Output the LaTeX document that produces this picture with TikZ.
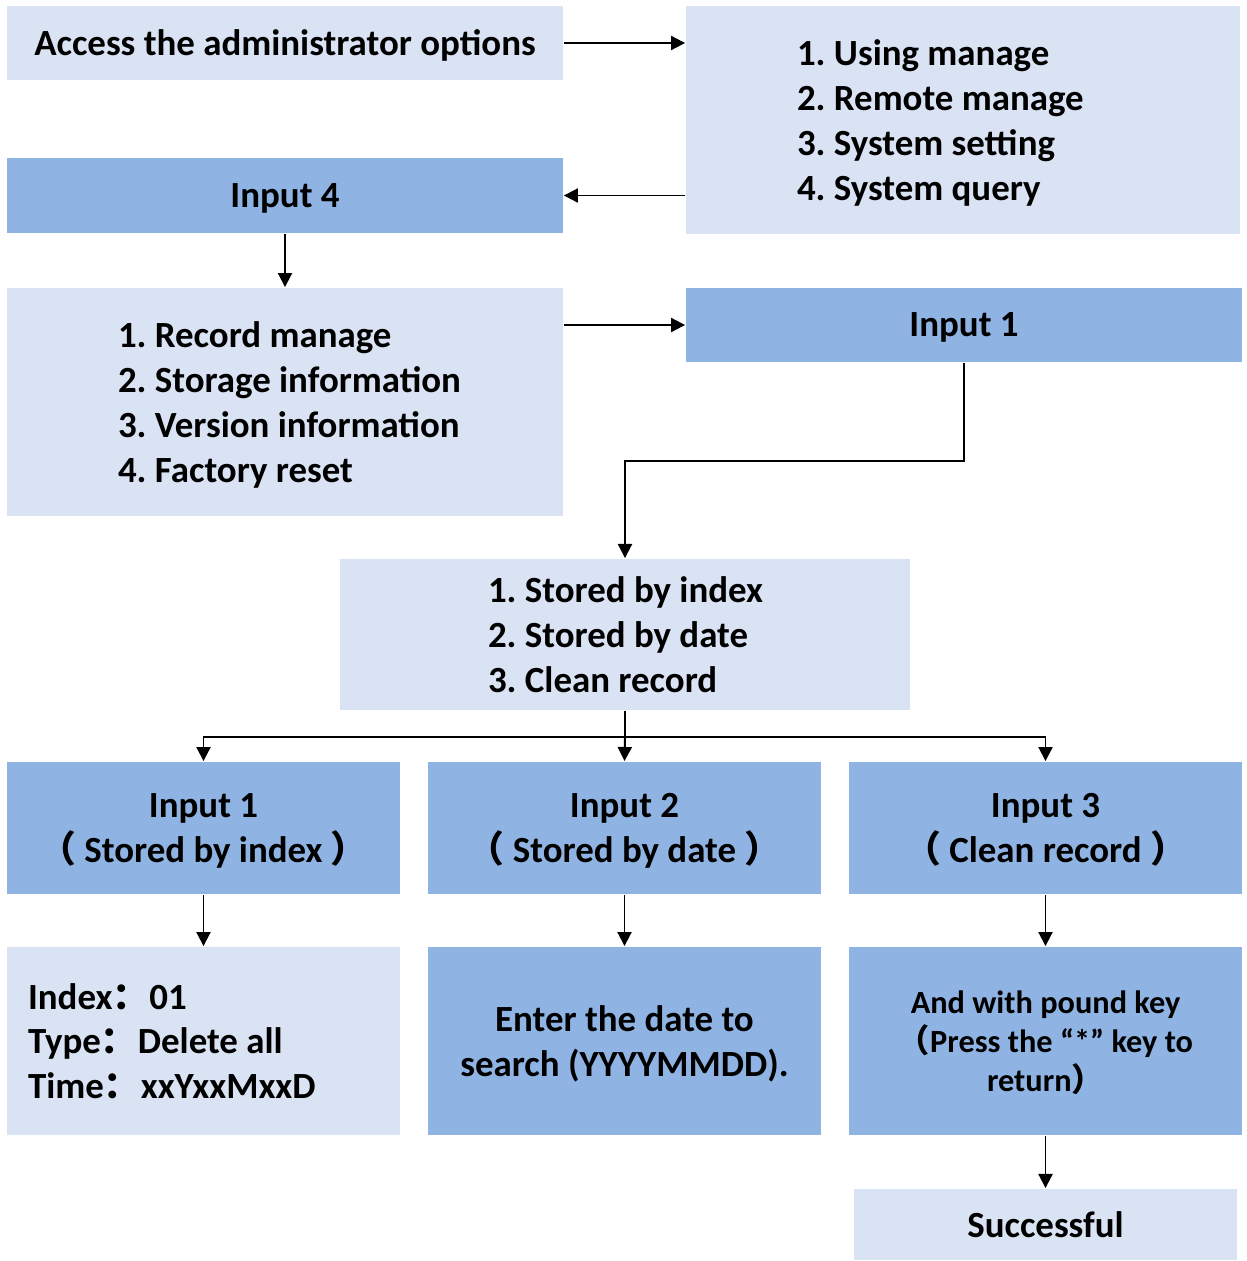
\documentclass[tikz,border=0pt]{standalone}
\usepackage{fontspec}
\setmainfont{Carlito}
\newfontfamily\cjk{Noto Sans CJK SC}
\usetikzlibrary{arrows.meta}
\frenchspacing
\definecolor{boxlight}{HTML}{DAE3F3}
\definecolor{boxmid}{HTML}{8FB4E3}
\tikzset{
  pale/.style={fill=boxlight, inner sep=0pt},
  deep/.style={fill=boxmid, inner sep=0pt},
  txt/.style={font=\fontsize{21pt}{25.5pt}\selectfont\bfseries, align=center, text depth=0pt},
  smalltxt/.style={font=\fontsize{18.4pt}{22pt}\selectfont\bfseries, align=center, text depth=0pt},
  listtxt/.style={txt, align=left, anchor=west, inner sep=0pt},
}
\begin{document}
\begin{tikzpicture}[x=0.02cm,y=-0.02cm,line width=1.1pt,>={Triangle[length=8pt,width=8pt]}]
\useasboundingbox (0,0) rectangle (1247,1261);

% top part
\node[pale,txt,minimum width=11.12cm,minimum height=1.48cm] (access) at (285,43) {Access the administrator options};
\node[pale,minimum width=11.08cm,minimum height=4.56cm] (mainMenu) at (963,120) {};
\node[listtxt] (mainMenuTxt) at ([xshift=2.22cm]mainMenu.west)
  {1. Using manage\\2. Remote manage\\3. System setting\\4. System query};
\node[deep,txt,minimum width=11.12cm,minimum height=1.5cm] (inFour) at (285,195.5) {Input 4};
\node[pale,minimum width=11.12cm,minimum height=4.56cm] (queryMenu) at (285,402) {};
\node[listtxt] (queryMenuTxt) at ([xshift=2.22cm]queryMenu.west)
  {1. Record manage\\2. Storage information\\3. Version information\\4. Factory reset};
\node[deep,txt,minimum width=11.12cm,minimum height=1.48cm] (inOne) at (964,325) {Input 1};
\node[pale,minimum width=11.4cm,minimum height=3.02cm] (recMenu) at (625,634.5) {};
\node[listtxt] (recMenuTxt) at ([xshift=2.96cm]recMenu.west)
  {1. Stored by index\\2. Stored by date\\3. Clean record};

\draw[->] (access.east) -- (access.east -| mainMenu.west);
\draw[->] (mainMenu.west |- inFour.east) -- (inFour.east);
\draw[->] (inFour.south) -- (queryMenu.north);
\draw[->] (queryMenu.east |- inOne.west) -- (inOne.west);
\coordinate (bend) at (625,461);
\draw[->] (inOne.south) |- (bend) -- (recMenu.north);

%---------------------------------

\node[deep,txt,minimum width=7.86cm,minimum height=2.64cm] (byIndex) at (203.5,828) {Input 1\\{\cjk （} Stored by index {\cjk ）}};
\node[deep,txt,minimum width=7.86cm,minimum height=2.64cm] (byDate) at (624.5,828) {Input 2\\{\cjk （} Stored by date {\cjk ）}};
\node[deep,txt,minimum width=7.86cm,minimum height=2.64cm] (clean) at (1045.5,828) {Input 3\\{\cjk （} Clean record {\cjk ）}};

\coordinate (split) at (625,737);
\draw (recMenu.south) -- (split);
\draw[->] (split) -- (byDate.north);
\draw[->] (split) -| (byIndex.north);
\draw[->] (split) -| (clean.north);

%---------------------------------

\node[pale,minimum width=7.86cm,minimum height=3.76cm] (showIdx) at (203.5,1041) {};
\node[listtxt] (showIdxTxt) at ([xshift=0.42cm]showIdx.west)
  {Index{\cjk ：}01\\Type{\cjk ：}Delete all\\Time{\cjk ：}xxYxxMxxD};
\node[deep,txt,minimum width=7.86cm,minimum height=3.76cm] (enterDate) at (624.5,1041) {Enter the date to\\search (YYYYMMDD).};
\node[deep,smalltxt,minimum width=7.86cm,minimum height=3.76cm] (pound) at (1045.5,1041) {And with pound key\\{\cjk （}Press the “*” key to\\return{\cjk ）}};
\node[pale,txt,minimum width=7.68cm,minimum height=1.42cm] (done) at (1045.5,1224.5) {Successful};

\draw[->] (byIndex.south) -- (showIdx.north);
\draw[->] (byDate.south) -- (enterDate.north);
\draw[->] (clean.south) -- (pound.north);
\draw[->] (pound.south) -- (done.north);
\end{tikzpicture}
\end{document}
